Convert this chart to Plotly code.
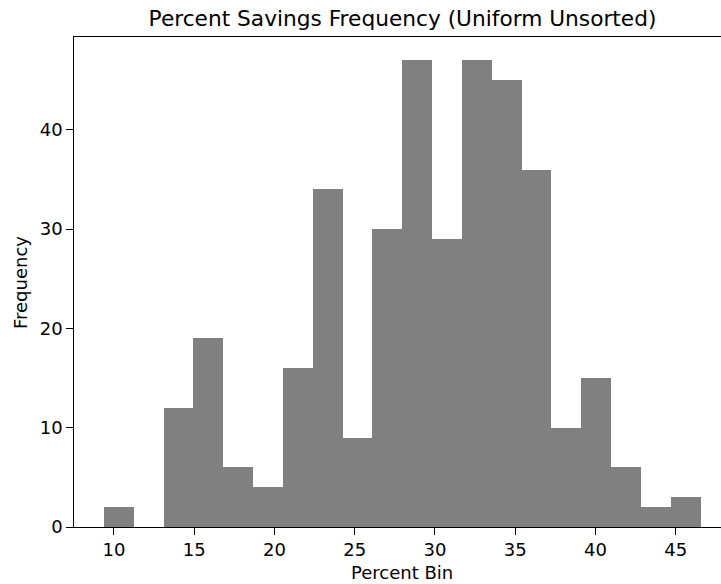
import numpy as np
import plotly.graph_objects as go

# Histogram data (20 equal-width bins)
bin_min = 9.37
bin_max = 46.55
n_bins = 20
counts = [2, 0, 12, 19, 6, 4, 16, 34, 9, 30, 47, 29, 47, 45, 36, 10, 15, 6, 2, 3]
x_ticks = [10, 15, 20, 25, 30, 35, 40, 45]
y_ticks = [0, 10, 20, 30, 40]

edges = np.linspace(bin_min, bin_max, n_bins + 1)
centers = (edges[:-1] + edges[1:]) / 2
width = edges[1] - edges[0]

FONT = "DejaVu Sans"
TICK_SIZE = 18
TITLE_SIZE = 21.7

fig = go.Figure(
    go.Bar(
        x=centers,
        y=counts,
        width=[width] * n_bins,
        marker=dict(color="#808080", line=dict(width=0)),
        hoverinfo="x+y",
    )
)

W, H = 721, 584
ml, mt, mb = 74, 37, 57
span = bin_max - bin_min
xmin = bin_min - 0.05 * span
px_per_unit = 16.05
xmax = xmin + (W - ml) / px_per_unit

axis_common = dict(
    tickmode="array",
    ticks="outside",
    ticklen=6.5,
    tickwidth=1.4,
    tickcolor="black",
    showline=True,
    linecolor="black",
    linewidth=1.4,
    showgrid=False,
    zeroline=False,
    tickfont=dict(family=FONT, size=TICK_SIZE, color="black"),
)

fig.update_layout(
    width=W,
    height=H,
    margin=dict(l=ml, r=0, t=mt, b=mb, pad=0),
    paper_bgcolor="white",
    plot_bgcolor="white",
    bargap=0,
    showlegend=False,
    font=dict(family=FONT, size=TICK_SIZE, color="black"),
    title=dict(
        text="Percent Savings Frequency (Uniform Unsorted)",
        x=402.5 / W,
        xanchor="center",
        y=1 - 18 / H,
        yanchor="middle",
        font=dict(family=FONT, size=TITLE_SIZE, color="black"),
    ),
    xaxis=dict(
        range=[xmin, xmax],
        tickvals=x_ticks,
        ticktext=[str(v) for v in x_ticks],
        mirror=True,
        **axis_common,
    ),
    yaxis=dict(
        range=[0, max(counts) * 1.05],
        tickvals=y_ticks,
        ticktext=[str(v) for v in y_ticks],
        mirror=False,
        **axis_common,
    ),
    annotations=[
        dict(
            text="Percent Bin",
            xref="paper",
            yref="paper",
            x=(402.5 - ml) / (W - ml),
            y=-(572 - (H - mb)) / (H - mt - mb),
            xanchor="center",
            yanchor="middle",
            showarrow=False,
            font=dict(family=FONT, size=TICK_SIZE, color="black"),
        ),
        dict(
            text="Frequency",
            xref="paper",
            yref="paper",
            x=-(ml - 20) / (W - ml),
            y=0.5,
            xanchor="center",
            yanchor="middle",
            textangle=-90,
            showarrow=False,
            font=dict(family=FONT, size=TICK_SIZE, color="black"),
        ),
    ],
)

fig.write_html(
    "out.html",
    config={"displayModeBar": False},
    post_script="document.body.style.margin='0';document.body.style.overflow='hidden';",
)
